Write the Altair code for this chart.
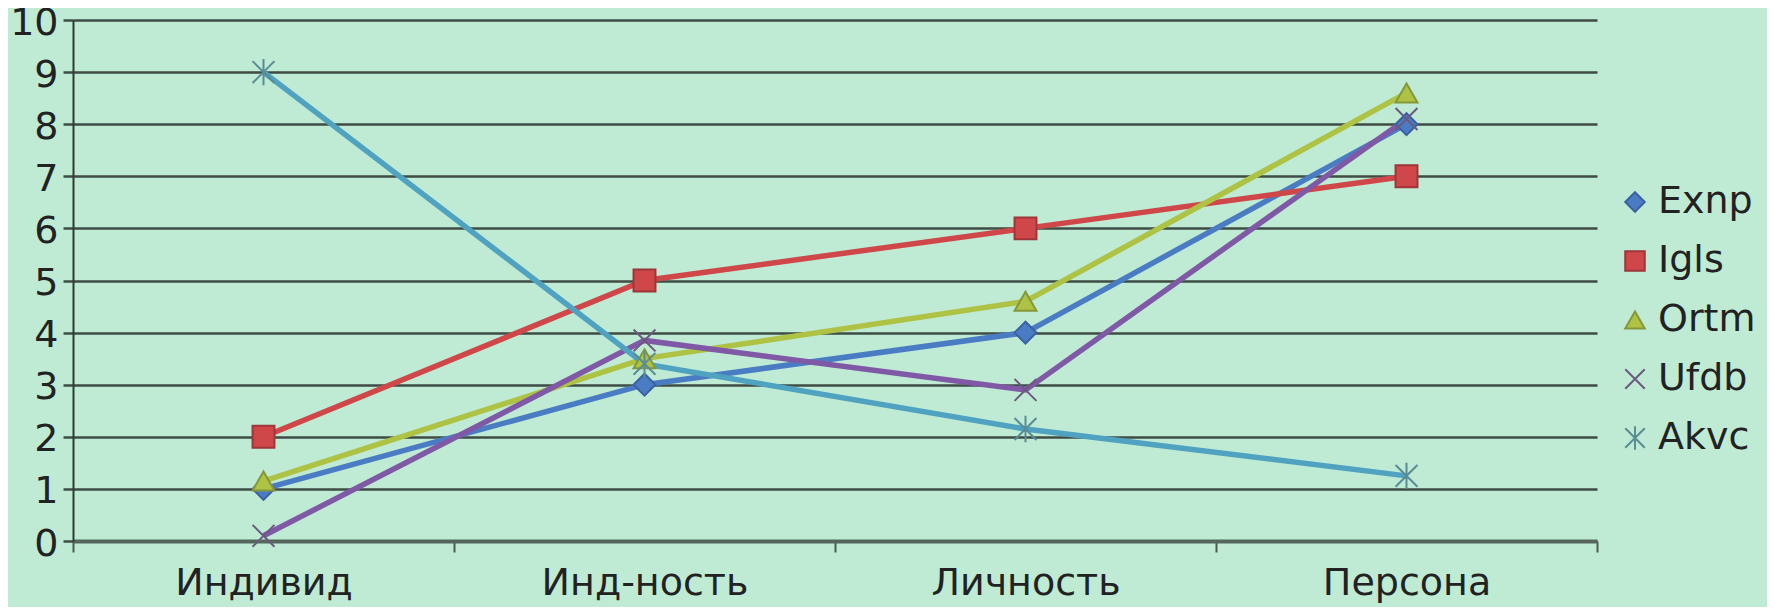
import altair as alt
import pandas as pd

categories = ["Индивид", "Инд-ность", "Личность", "Персона"]
series = ["Exnp", "Igls", "Ortm", "Ufdb", "Akvc"]
exnp = [1, 3, 4, 8]
igls = [2, 5, 6, 7]
ortm = [1.15, 3.5, 4.6, 8.6]
ufdb = [0.1, 3.85, 2.9, 8.1]
akvc = [9.0, 3.4, 2.15, 1.25]
colors = ["#4A7CC4", "#D0474A", "#AEC244", "#8059A6", "#4FA2C0"]
edge_colors = ["#3A62A0", "#9E3538", "#86963A", "#6B5A80", "#5A8C96"]
shapes = [
    "diamond",
    "square",
    "triangle-up",
    "M-1,-1L1,1M-1,1L1,-1",
    "M-1,-1L1,1M-1,1L1,-1M0,-1.2L0,1.2",
]

values = [exnp, igls, ortm, ufdb, akvc]
rows = []
for s, vals in zip(series, values):
    for c, v in zip(categories, vals):
        rows.append({"cat": c, "series": s, "line": s, "value": v})
df = pd.DataFrame(rows)

FONT = "DejaVu Sans"
FS = 38

x = alt.X(
    "cat:N",
    sort=categories,
    bandPosition=0.5,
    scale=alt.Scale(type="band", paddingInner=0, paddingOuter=0),
    axis=alt.Axis(
        title=None,
        labelAngle=0,
        labelLimit=0,
        tickBand="extent",
        grid=False,
        labelFontSize=FS,
        labelFont=FONT,
        labelColor="#222222",
        labelPadding=12,
        tickSize=11,
        tickColor="#4a5a50",
        tickWidth=2,
        domainColor="#55675c",
        domainWidth=4,
    ),
)
y = alt.Y(
    "value:Q",
    scale=alt.Scale(domain=[0, 10], nice=False),
    axis=alt.Axis(
        title=None,
        values=list(range(0, 11)),
        grid=True,
        gridColor="#3e4c44",
        gridWidth=2.5,
        labelFontSize=FS,
        labelFont=FONT,
        labelColor="#222222",
        labelPadding=5,
        labelOffset=3,
        tickSize=10,
        tickColor="#3e4c44",
        tickWidth=2.5,
        domainColor="#2e3a33",
        domainWidth=2,
    ),
)

lines = alt.Chart(df).mark_line(strokeWidth=5.5).encode(
    x=x,
    y=y,
    color=alt.Color("line:N", scale=alt.Scale(domain=series, range=colors), legend=None),
    detail="line:N",
)

legend = alt.Legend(
    title=None,
    orient="none",
    legendX=1543,
    legendY=163,
    labelFontSize=FS,
    labelFont=FONT,
    labelColor="#222222",
    symbolSize=380,
    symbolStrokeWidth=2,
    rowPadding=21,
    labelOffset=4,
    padding=0,
)

points = alt.Chart(df).mark_point(filled=True, size=480, strokeWidth=2, opacity=1).encode(
    x=x,
    y=y,
    color=alt.Color("series:N", scale=alt.Scale(domain=series, range=colors), legend=legend),
    stroke=alt.Stroke("series:N", scale=alt.Scale(domain=series, range=edge_colors), legend=legend),
    shape=alt.Shape("series:N", scale=alt.Scale(domain=series, range=shapes), legend=legend),
)

chart = (
    alt.layer(lines, points)
    .resolve_scale(color="independent", stroke="independent", shape="independent")
    .properties(
        width=1524,
        height=521,
        autosize=alt.AutoSizeParams(type="none"),
        padding={"left": 65, "top": 12, "right": 170, "bottom": 66},
        background="#BFEBD4",
    )
    .configure_view(stroke=None)
)

chart.save("out.html", embed_options={"renderer": "svg", "actions": False})
